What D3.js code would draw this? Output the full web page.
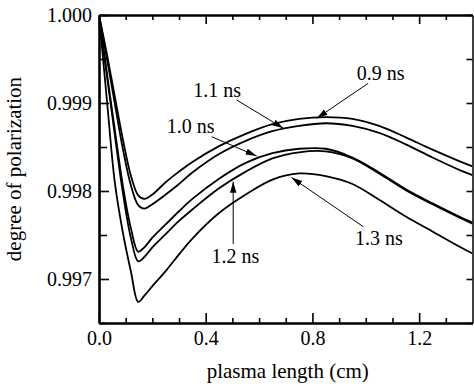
<!DOCTYPE html>
<html>
<head>
<meta charset="utf-8">
<script src="https://cdn.jsdelivr.net/npm/d3@7"></script>
</head>
<body style="margin:0;background:#fff">
<svg id="chart" width="474" height="390" style="display:block"></svg>
<script>
// ---- data ----
const plasmaLength = [0, 0.03, 0.06, 0.09, 0.12, 0.147, 0.17, 0.2, 0.25, 0.3, 0.35, 0.45, 0.55, 0.65, 0.75, 0.85, 0.95, 1.05, 1.15, 1.25, 1.35, 1.4];
const pol09 = [1.00000, 0.99955, 0.99906, 0.99858, 0.99817, 0.99795, 0.99791, 0.99796, 0.99810, 0.99822, 0.99833, 0.99851, 0.99865, 0.99876, 0.99882, 0.99884, 0.99882, 0.99874, 0.99861, 0.99847, 0.99834, 0.99828];
const pol11 = [1.00000, 0.99950, 0.99898, 0.99847, 0.99806, 0.99784, 0.99780, 0.99785, 0.99796, 0.99808, 0.99821, 0.99842, 0.99857, 0.99868, 0.99874, 0.99877, 0.99874, 0.99866, 0.99853, 0.99838, 0.99824, 0.99818];
const pol10 = [1.00000, 0.99933, 0.99868, 0.99805, 0.99757, 0.99731, 0.99736, 0.99747, 0.99762, 0.99777, 0.99791, 0.99814, 0.99832, 0.99843, 0.99848, 0.99848, 0.99838, 0.99821, 0.99802, 0.99786, 0.99771, 0.99764];
const pol12 = [1.00000, 0.99930, 0.99862, 0.99797, 0.99746, 0.99720, 0.99725, 0.99736, 0.99751, 0.99766, 0.99779, 0.99803, 0.99822, 0.99837, 0.99844, 0.99845, 0.99837, 0.99820, 0.99801, 0.99785, 0.99770, 0.99763];
const pol13 = [1.00000, 0.99902, 0.99808, 0.99752, 0.99708, 0.99674, 0.99681, 0.99692, 0.99709, 0.99728, 0.99746, 0.99775, 0.99796, 0.99813, 0.99820, 0.99817, 0.99808, 0.99790, 0.99771, 0.99754, 0.99737, 0.99729];
const seriesList = [pol09, pol11, pol10, pol12, pol13];

const xMajorTicks = [0, 0.4, 0.8, 1.2];
const xTickLabels = ["0.0", "0.4", "0.8", "1.2"];
const xMinorTicks = [0.1, 0.2, 0.3, 0.5, 0.6, 0.7, 0.9, 1.0, 1.1, 1.3];
const yMajorTicks = [0.997, 0.998, 0.999, 1.000];
const yTickLabels = ["0.997", "0.998", "0.999", "1.000"];
const yMinorTicks = [0.9965, 0.9975, 0.9985, 0.9995];

// annotations: label, text anchor (data units), arrow tail and tip (data units)
const annLabels = ["0.9 ns", "1.1 ns", "1.0 ns", "1.2 ns", "1.3 ns"];
const annText = [[0.966, 0.999261], [0.353, 0.999072], [0.254, 0.998659], [0.422, 0.997182], [0.960, 0.997386]];
const annTail = [[1.009, 0.999224], [0.516, 0.999034], [0.422, 0.998617], [0.503, 0.997398], [0.991, 0.997594]];
const annTip  = [[0.816, 0.998826], [0.691, 0.998713], [0.591, 0.998398], [0.503, 0.998106], [0.7215, 0.998153]];

// ---- layout ----
const FONT = "'Liberation Serif'";
const W = 474, H = 390;
const m = { left: 99, right: 1.5, top: 15, bottom: 67 };
const svg = d3.select("#chart");

const x = d3.scaleLinear().domain([0, 1.4]).range([m.left, W - m.right]);
const y = d3.scaleLinear().domain([0.9965, 1.000]).range([H - m.bottom, m.top]);

const defs = svg.append("defs");
defs.append("marker")
  .attr("id", "arrow").attr("viewBox", "0 -4 11 8")
  .attr("refX", 11).attr("refY", 0)
  .attr("markerWidth", 11).attr("markerHeight", 8)
  .attr("markerUnits", "userSpaceOnUse")
  .attr("orient", "auto")
  .append("path").attr("d", "M0,-3.2L11,0L0,3.2Z").attr("fill", "#000");

defs.append("clipPath").attr("id", "plotclip")
  .append("rect").attr("x", m.left).attr("y", m.top)
  .attr("width", x.range()[1] - m.left).attr("height", y.range()[0] - m.top);

// curves
const line = d3.line()
  .x((d, i) => x(plasmaLength[i]))
  .y(d => y(d))
  .curve(d3.curveCatmullRom.alpha(0.5));

svg.append("g").attr("clip-path", "url(#plotclip)")
  .selectAll("path").data(seriesList).join("path")
  .attr("d", line)
  .attr("fill", "none").attr("stroke", "#000").attr("stroke-width", 1.8);

// axes
const fs = 20;
function styleAxis(g, width) {
  g.attr("font-family", null).attr("font-size", null);
  g.select(".domain").attr("stroke-width", width).attr("stroke", "#000");
  g.selectAll(".tick line").attr("stroke", "#000").attr("stroke-width", 1.6);
  g.selectAll("text").attr("font-size", fs).style("font-family", FONT).attr("fill", "#000");
}

const bottom = H - m.bottom;
const rightX = x.range()[1];

svg.append("g").attr("transform", `translate(0,${bottom})`)
  .call(d3.axisBottom(x).tickValues(xMinorTicks).tickSize(-5).tickSizeOuter(0).tickFormat(""))
  .call(g => styleAxis(g, 2));
svg.append("g").attr("transform", `translate(0,${bottom})`)
  .call(d3.axisBottom(x).tickValues(xMajorTicks).tickSize(-10).tickSizeOuter(0).tickPadding(8)
    .tickFormat((d, i) => xTickLabels[i]))
  .call(g => styleAxis(g, 2.2));
svg.append("g").attr("transform", `translate(0,${m.top})`)
  .call(d3.axisTop(x).tickValues(xMinorTicks).tickSize(-5).tickSizeOuter(0).tickFormat(""))
  .call(g => styleAxis(g, 2));
svg.append("g").attr("transform", `translate(0,${m.top})`)
  .call(d3.axisTop(x).tickValues(xMajorTicks).tickSize(-9).tickSizeOuter(0).tickFormat(""))
  .call(g => styleAxis(g, 2));
svg.append("g").attr("transform", `translate(${m.left},0)`)
  .call(d3.axisLeft(y).tickValues(yMinorTicks).tickSize(-8).tickSizeOuter(0).tickFormat(""))
  .call(g => styleAxis(g, 2));
svg.append("g").attr("transform", `translate(${m.left},0)`)
  .call(d3.axisLeft(y).tickValues(yMajorTicks).tickSize(-10).tickSizeOuter(0).tickPadding(7)
    .tickFormat((d, i) => yTickLabels[i]))
  .call(g => styleAxis(g, 2.2));
svg.append("g").attr("transform", `translate(${rightX},0)`)
  .call(d3.axisRight(y).tickValues(yMinorTicks.concat(yMajorTicks)).tickSize(-6).tickSizeOuter(0).tickFormat(""))
  .call(g => styleAxis(g, 1.5));

// axis titles
svg.append("text")
  .attr("x", (m.left + rightX) / 2 + 2).attr("y", 378)
  .attr("text-anchor", "middle").attr("font-size", 21)
  .style("font-family", FONT)
  .text("plasma length (cm)");
svg.append("text")
  .attr("transform", `translate(21,${(m.top + bottom) / 2}) rotate(-90)`)
  .attr("text-anchor", "middle").attr("font-size", 21)
  .style("font-family", FONT)
  .text("degree of polarization");

// annotations
const ann = svg.append("g");
annLabels.forEach((lab, i) => {
  ann.append("line")
    .attr("x1", x(annTail[i][0])).attr("y1", y(annTail[i][1]))
    .attr("x2", x(annTip[i][0])).attr("y2", y(annTip[i][1]))
    .attr("stroke", "#000").attr("stroke-width", 1)
    .attr("marker-end", "url(#arrow)");
  ann.append("text")
    .attr("x", x(annText[i][0])).attr("y", y(annText[i][1]))
    .attr("font-size", fs)
    .style("font-family", FONT)
    .text(lab);
});
</script>
</body>
</html>
